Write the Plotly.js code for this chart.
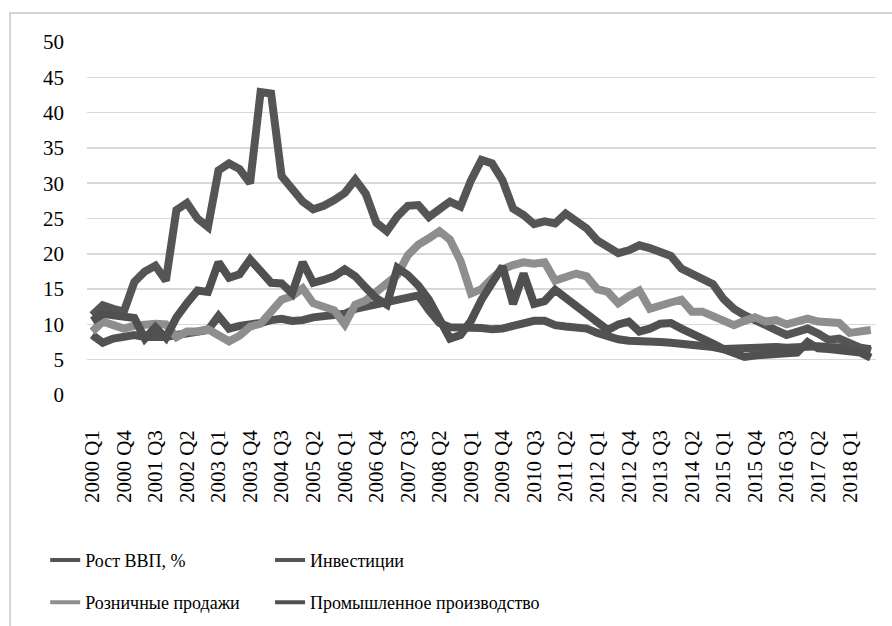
<!DOCTYPE html>
<html>
<head>
<meta charset="utf-8">
<script src="https://cdn.plot.ly/plotly-3.0.1.min.js"></script>
<style>
html,body{margin:0;padding:0;background:#fff;}
#chart{width:892px;height:626px;}
</style>
</head>
<body>
<div id="chart"></div>
<script>
// Quarters 2000 Q1 .. 2018 Q3
const quarters = [];
for (let y = 2000; y <= 2018; y++) {
  for (let q = 1; q <= 4; q++) {
    if (y === 2018 && q > 3) break;
    quarters.push(y + ' Q' + q);
  }
}

const gdp = [8.5,7.4,8.0,8.3,8.5,8.2,8.2,8.2,8.5,8.8,9.0,9.2,11.2,9.4,9.8,9.9,10.2,10.6,10.8,10.5,
  10.6,11.0,11.2,11.3,11.5,12.2,12.5,12.8,13.0,13.3,13.7,14.1,12.0,10.2,9.6,9.6,9.6,9.5,9.3,9.4,
  9.8,10.1,10.5,10.5,9.9,9.7,9.6,9.4,8.8,8.3,7.9,7.7,7.7,7.6,7.5,7.4,7.3,7.1,6.9,6.8,
  6.5,6.6,6.7,6.8,6.8,6.8,6.7,6.8,6.9,6.9,6.8,6.8,6.8,6.7,6.5];

const investment = [11.3,12.7,12.2,11.8,16.0,17.5,18.3,16.2,26.2,27.2,25.0,23.8,31.8,32.8,32.0,30.0,42.9,42.7,31.0,29.2,
  27.4,26.3,26.8,27.6,28.6,30.5,28.5,24.4,23.2,25.3,26.8,26.9,25.2,26.3,27.4,26.7,30.4,33.3,32.8,30.4,
  26.4,25.5,24.2,24.6,24.3,25.7,24.8,23.6,21.9,21.0,20.1,20.5,21.2,20.8,20.3,19.7,17.9,17.2,16.5,15.7,
  13.6,12.2,11.3,10.5,9.9,9.2,8.5,9.0,9.4,8.7,7.8,8.0,7.2,6.7,6.2];

const retail = [9.0,10.4,9.9,9.4,9.8,10.0,10.1,10.0,8.2,9.0,9.0,9.3,8.6,7.6,8.4,9.7,10.1,12.0,13.5,14.0,
  15.1,13.0,12.6,12.0,10.0,12.8,13.4,14.5,15.6,17.0,19.8,21.3,22.2,23.2,22.0,19.0,14.4,15.0,16.5,17.8,
  18.4,18.8,18.6,18.8,16.2,16.7,17.2,16.8,15.0,14.6,13.0,14.0,14.8,12.2,12.8,13.1,13.5,11.8,11.8,11.1,
  10.5,9.9,10.5,11.0,10.4,10.6,10.0,10.4,10.8,10.4,10.2,10.2,8.8,9.0,9.2];

const industry = [10.5,11.5,11.3,11.0,10.9,8.0,9.6,8.1,11.0,13.0,14.8,14.6,18.8,16.6,17.1,19.2,17.5,15.9,15.8,14.4,
  18.8,15.9,16.3,16.8,17.8,16.8,15.2,13.7,12.8,18.0,17.0,15.5,13.5,11.0,8.0,8.5,10.5,13.5,16.0,18.2,
  12.9,17.2,12.9,13.3,14.9,13.8,12.7,11.6,10.5,9.2,10.0,10.4,9.0,9.4,10.1,10.2,9.4,8.8,8.0,7.3,
  6.5,6.0,5.4,5.6,5.8,5.8,5.9,6.0,7.5,6.6,6.5,6.4,6.2,6.0,5.3];

const names = ['Рост ВВП, %', 'Инвестиции', 'Розничные продажи', 'Промышленное производство'];
const colors = ['#525252', '#555555', '#8e8e8e', '#505050'];
const series = [gdp, investment, retail, industry];
const legendIds = ['legend', 'legend2', 'legend3', 'legend4'];

// plotted lines (not in legend)
const traces = series.map((s, k) => ({
  type: 'scatter', mode: 'lines', x: quarters, y: s, name: names[k],
  line: {color: colors[k], width: 8, shape: 'linear'},
  showlegend: false, hoverinfo: 'skip'
}));
// legend entries with thinner sample lines (they draw nothing in the plot)
series.forEach((s, k) => traces.push({
  type: 'scatter', mode: 'lines', x: [quarters[0]], y: [null], name: names[k],
  line: {color: colors[k], width: 4},
  legend: legendIds[k], showlegend: true, hoverinfo: 'skip'
}));

const serif = '"Liberation Serif", "Times New Roman", "DejaVu Serif", serif';
const legendCommon = {
  orientation: 'h', xanchor: 'left', yanchor: 'middle',
  font: {family: serif, size: 18, color: '#000'},
  bgcolor: 'rgba(0,0,0,0)', borderwidth: 0
};
const col1 = -0.053, col2 = 0.232, row1 = -0.468, row2 = -0.588;

const layout = {
  width: 892, height: 626,
  margin: {l: 87, r: 16, t: 42, b: 231, pad: 0, autoexpand: false},
  paper_bgcolor: '#fff', plot_bgcolor: '#fff',
  showlegend: true,
  font: {family: serif},
  xaxis: {
    type: 'category', range: [-0.5, quarters.length - 0.5],
    tickmode: 'linear', tick0: 0, dtick: 3,
    tickangle: -90, ticks: '', showgrid: false, zeroline: false, showline: false,
    ticklabelstandoff: 30, automargin: false,
    tickfont: {family: serif, size: 21, color: '#000'}, fixedrange: true
  },
  yaxis: {
    range: [0, 50], tickmode: 'linear', tick0: 0, dtick: 5,
    showgrid: true, gridcolor: '#d9d9d9', gridwidth: 1.5,
    zeroline: false, showline: false, ticks: '',
    ticklabelstandoff: 22, automargin: false,
    tickfont: {family: serif, size: 21, color: '#000'}, fixedrange: true
  },
  legend: Object.assign({}, legendCommon, {x: col1, y: row1}),
  legend2: Object.assign({}, legendCommon, {x: col2, y: row1}),
  legend3: Object.assign({}, legendCommon, {x: col1, y: row2}),
  legend4: Object.assign({}, legendCommon, {x: col2, y: row2}),
  shapes: [{
    type: 'path', xref: 'paper', yref: 'paper', layer: 'below',
    path: 'M -0.0976,-0.7 L -0.0976,1.082 L 1.1,1.082',
    line: {color: '#d4d4d4', width: 2}
  }]
};

Plotly.newPlot('chart', traces, layout, {staticPlot: true, displayModeBar: false});
</script>
</body>
</html>
